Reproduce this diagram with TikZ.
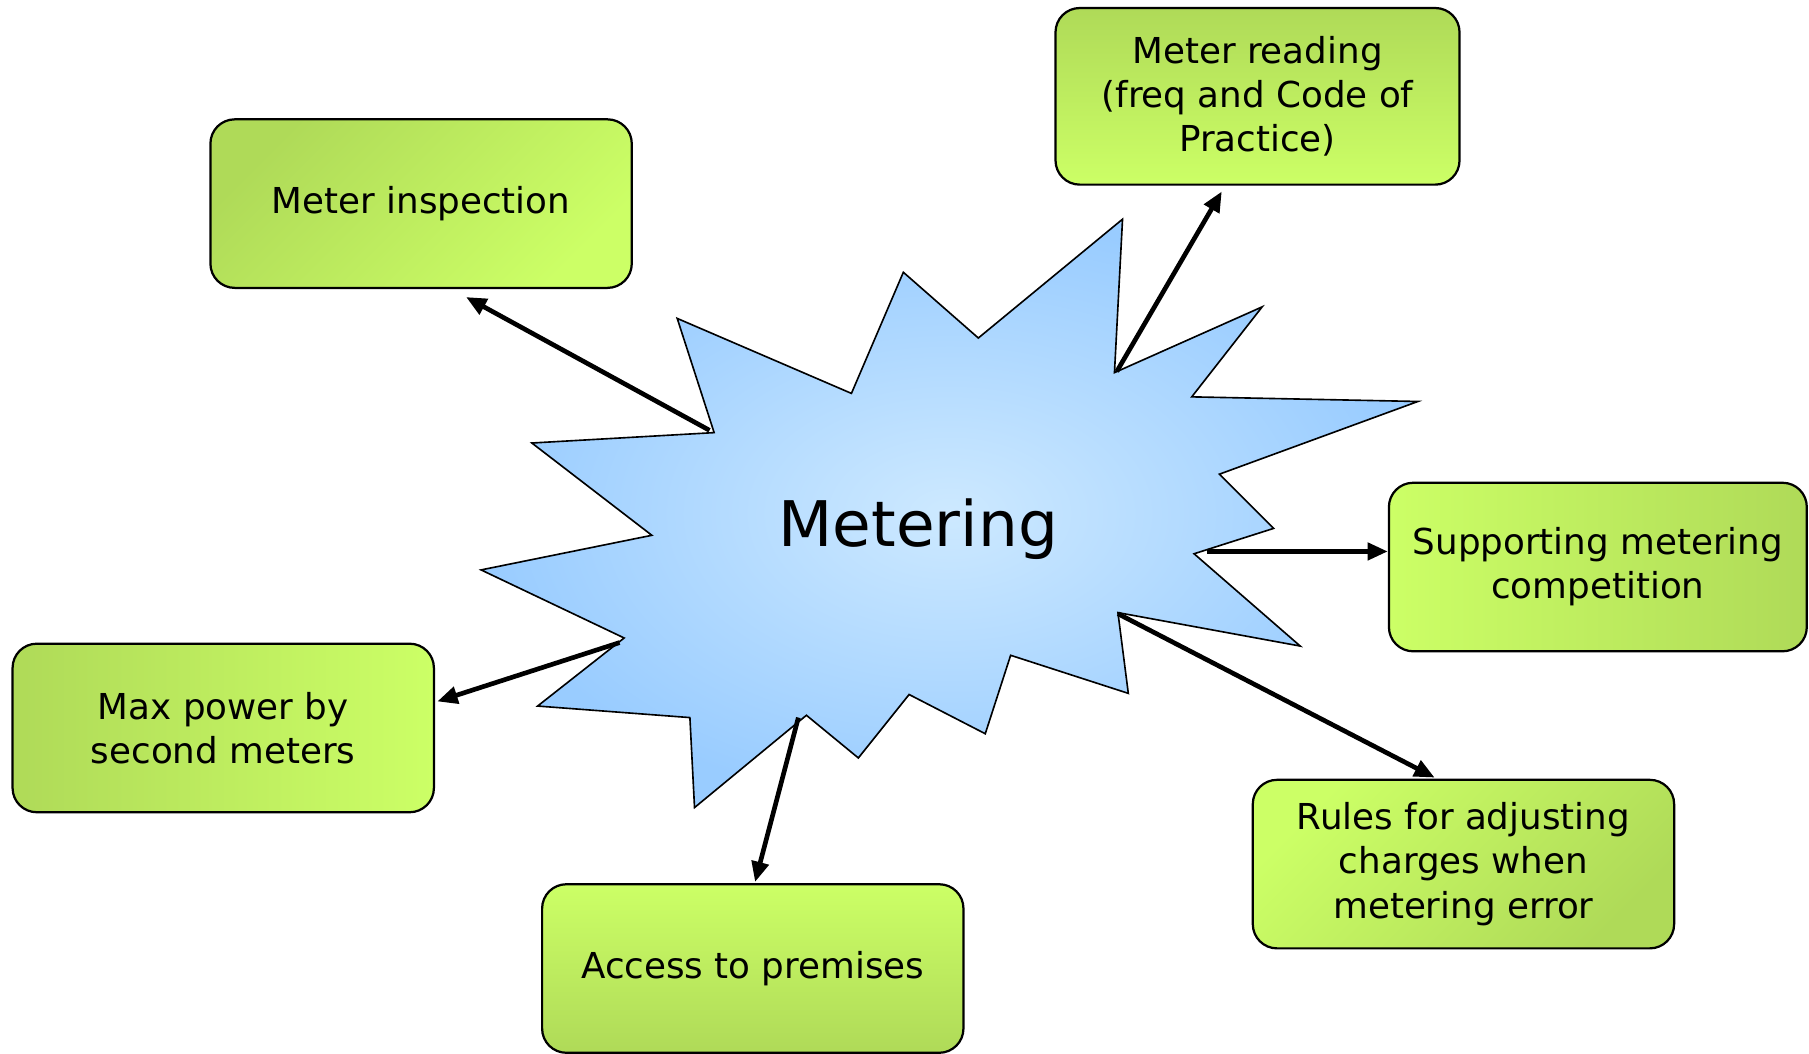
\documentclass[tikz,border=0pt]{standalone}
\usepackage{fontspec}
\setmainfont{DejaVu Sans}
\usetikzlibrary{arrows.meta,calc}
\definecolor{gdark}{HTML}{AFDA58}
\definecolor{glight}{HTML}{CCFF66}
\definecolor{bin}{HTML}{CDE9FF}
\definecolor{bout}{HTML}{99CCFF}
\tikzset{
  box/.style={draw=black, line width=0.55pt, rounded corners=0.21cm,
    minimum width=3.65cm, minimum height=1.46cm, align=center,
    font=\fontsize{8.8}{10.9}\selectfont, inner sep=2pt},
  conn/.style={line width=1.15pt, -{Triangle[length=5pt,width=4.2pt]}},
}
\begin{document}
\begin{tikzpicture}[x=0.01cm,y=-0.01cm]
\useasboundingbox (0,0) rectangle (1568,913);
% star
\draw[line width=0.4pt, inner color=bin, outer color=bout]
 (973,190) -- (966,323) -- (1094,266) -- (1033,344) -- (1229,348) -- (1057,411)
 -- (1104,458) -- (1035,480) -- (1127,560) -- (969,531) -- (978,601) -- (876,568)
 -- (854,636) -- (788,602) -- (744,657) -- (699,620) -- (602,700) -- (598,622)
 -- (466,612) -- (541,553) -- (417,494) -- (565,464) -- (461,384) -- (619,375)
 -- (587,276) -- (738,341) -- (783,236) -- (848,293) -- cycle;
\node (c) at (796,459) {\fontsize{15.5}{18}\selectfont Metering};
% boxes
\node[box, top color=gdark, bottom color=glight, shading angle=45] (insp) at (365,176.5) {Meter inspection};
\node[box, top color=gdark, bottom color=glight, minimum width=3.5cm, minimum height=1.53cm] (read) at (1090,83.5) {Meter reading\\(freq and Code of\\Practice)};
\node[box, left color=glight, right color=gdark, minimum width=3.62cm] (supp) at (1385,491.5) {Supporting metering\\competition};
\node[box, top color=glight, bottom color=gdark, shading angle=45] (rules) at (1268.5,749) {Rules for adjusting\\charges when\\metering error};
\node[box, top color=glight, bottom color=gdark] (access) at (652.5,839.5) {Access to premises};
\node[box, left color=gdark, right color=glight] (maxp) at (193.5,631) {Max power by\\second meters};
% connector start points on the star
\coordinate (s1) at (615,373);
\coordinate (s2) at (968,322);
\coordinate (s3) at (1046,478);
\coordinate (s4) at (969,532);
\coordinate (s5) at (692,622);
\coordinate (s6) at (537,557);
\draw[conn] (s1) -- ($(insp.south)+(39,7)$);
\draw[conn] (s2) -- ($(read.south)+(-31,5)$);
\draw[conn] (s3) -- (s3 -| supp.west);
\draw[conn] (s4) -- ($(rules.north)+(-25,-1)$);
\draw[conn] (s5) -- ($(access.north)+(2,-1)$);
\draw[conn] (s6) -- ($(maxp.east)+(2,-23)$);
\end{tikzpicture}
\end{document}
